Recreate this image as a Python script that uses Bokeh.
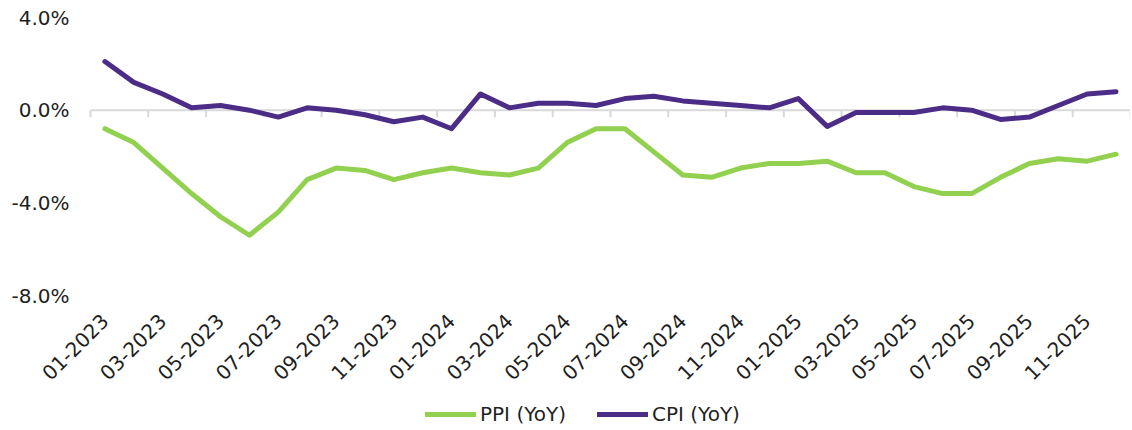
import math
from bokeh.plotting import figure
from bokeh.models import (FixedTicker, PrintfTickFormatter, Legend,
                          LegendItem, Range1d)
from bokeh.embed import file_html
from bokeh.resources import INLINE

months = ["01-2023", "02-2023", "03-2023", "04-2023", "05-2023", "06-2023",
          "07-2023", "08-2023", "09-2023", "10-2023", "11-2023", "12-2023",
          "01-2024", "02-2024", "03-2024", "04-2024", "05-2024", "06-2024",
          "07-2024", "08-2024", "09-2024", "10-2024", "11-2024", "12-2024",
          "01-2025", "02-2025", "03-2025", "04-2025", "05-2025", "06-2025",
          "07-2025", "08-2025", "09-2025", "10-2025", "11-2025", "12-2025"]

ppi = [-0.8, -1.4, -2.5, -3.6, -4.6, -5.4, -4.4, -3.0, -2.5, -2.6, -3.0, -2.7,
       -2.5, -2.7, -2.8, -2.5, -1.4, -0.8, -0.8, -1.8, -2.8, -2.9, -2.5, -2.3,
       -2.3, -2.2, -2.7, -2.7, -3.3, -3.6, -3.6, -2.9, -2.3, -2.1, -2.2, -1.9]

cpi = [2.1, 1.2, 0.7, 0.1, 0.2, 0.0, -0.3, 0.1, 0.0, -0.2, -0.5, -0.3,
       -0.8, 0.7, 0.1, 0.3, 0.3, 0.2, 0.5, 0.6, 0.4, 0.3, 0.2, 0.1,
       0.5, -0.7, -0.1, -0.1, -0.1, 0.1, 0.0, -0.4, -0.3, 0.2, 0.7, 0.8]

y_ticks = [-8, -4, 0, 4]
Y_MIN, Y_MAX = -8, 4

FONT = "DejaVu Sans"
TEXT = "#1f1f1f"
GREEN = "#92D050"
PURPLE = "#4B2C87"
AXIS_GREY = "#d9d9d9"

n = len(months)
x = list(range(n))

# layout (pixels): value area 1040 x 278, with room around it for labels
VALUE_W, VALUE_H = 1040, 278
PAD_L, PAD_T, PAD_B = 90, 17, 132
FRAME_W, FRAME_H = PAD_L + VALUE_W, PAD_T + VALUE_H + PAD_B
px_x = VALUE_W / n
px_y = VALUE_H / (Y_MAX - Y_MIN)

x_lo, x_hi = -0.5, n - 0.5
p = figure(frame_width=FRAME_W, frame_height=FRAME_H, output_backend="svg",
           toolbar_location=None,
           x_range=Range1d(x_lo - PAD_L / px_x, x_hi),
           y_range=Range1d(Y_MIN - PAD_B / px_y, Y_MAX + PAD_T / px_y),
           min_border_left=0, min_border_right=0, min_border_top=0,
           min_border_bottom=0)
p.outline_line_color = None
p.xgrid.visible = False
p.ygrid.visible = False

# horizontal category axis line at zero, tick marks between every 2 months
p.segment(x0=[x_lo], x1=[x_hi], y0=[0], y1=[0],
          line_color=AXIS_GREY, line_width=2)
bounds = [i - 0.5 for i in range(0, n + 1, 2)]
p.segment(x0=bounds, x1=bounds, y0=[0] * len(bounds),
          y1=[-7 / px_y] * len(bounds),
          line_color=AXIS_GREY, line_width=2)

r_ppi = p.line(x, ppi, line_color=GREEN, line_width=5, line_cap="round",
               line_join="round")
r_cpi = p.line(x, cpi, line_color=PURPLE, line_width=5, line_cap="round",
               line_join="round")

# month labels at the bottom of the value area
xa = p.xaxis[0]
xa.fixed_location = Y_MIN
xa.ticker = FixedTicker(ticks=x[::2])
xa.major_label_overrides = {i: months[i] for i in x[::2]}
xa.major_label_orientation = math.pi / 4
xa.axis_line_color = None
xa.major_tick_line_color = None
xa.minor_tick_line_color = None
xa.major_tick_out = 0
xa.major_tick_in = 0
xa.major_label_standoff = 22
xa.major_label_text_font = FONT
xa.major_label_text_font_size = "20px"
xa.major_label_text_color = TEXT

ya = p.yaxis[0]
ya.fixed_location = x_lo
ya.ticker = FixedTicker(ticks=y_ticks)
ya.formatter = PrintfTickFormatter(format="%.1f%%")
ya.axis_line_color = None
ya.major_tick_line_color = None
ya.minor_tick_line_color = None
ya.major_tick_out = 0
ya.major_tick_in = 0
ya.major_label_standoff = 21
ya.major_label_text_font = FONT
ya.major_label_text_font_size = "20px"
ya.major_label_text_color = TEXT

legend = Legend(items=[LegendItem(label="PPI (YoY)", renderers=[r_ppi]),
                       LegendItem(label="CPI (YoY)", renderers=[r_cpi])],
                orientation="horizontal", location=(PAD_L + 335, 1),
                glyph_width=51, glyph_height=20, label_height=20,
                label_standoff=4, spacing=31,
                padding=0, margin=0, border_line_color=None,
                background_fill_alpha=0,
                label_text_font=FONT, label_text_font_size="20px",
                label_text_color=TEXT)
p.add_layout(legend)

open("out.html", "w").write(file_html(p, INLINE))
